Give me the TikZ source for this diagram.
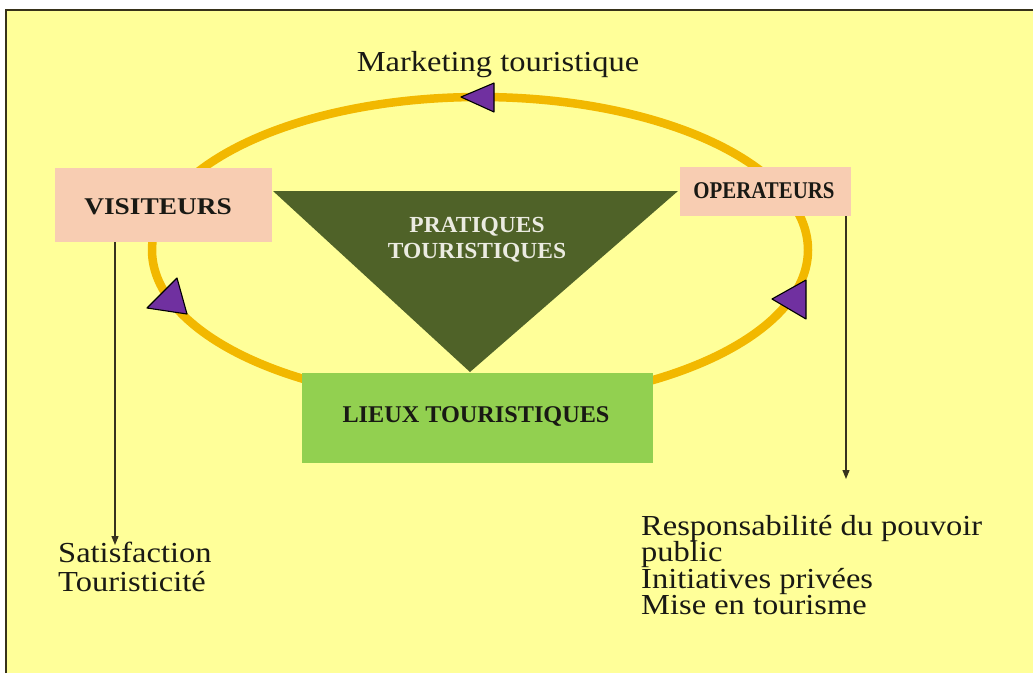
\documentclass[tikz,border=0pt]{standalone}
\usepackage{fontspec}
\setmainfont{Liberation Serif}
\usetikzlibrary{arrows.meta}
\definecolor{bgyellow}{RGB}{255,255,153}
\definecolor{framecol}{RGB}{55,50,25}
\definecolor{ringcol}{RGB}{242,184,0}
\definecolor{pinkbox}{RGB}{248,205,178}
\definecolor{darkgreen}{RGB}{79,98,40}
\definecolor{lightgreen}{RGB}{146,208,80}
\definecolor{purplehead}{RGB}{112,48,160}
\definecolor{textdark}{RGB}{25,25,20}
\definecolor{connline}{RGB}{55,50,30}
\definecolor{paletext}{RGB}{235,235,225}
\tikzset{
  boxpink/.style={fill=pinkbox, draw=none, inner sep=0pt},
  boxgreen/.style={fill=lightgreen, draw=none, inner sep=0pt},
  headtri/.style={fill=purplehead, draw=black, line width=1.1pt, line join=round},
  plain/.style={font=\fontsize{29}{29}\selectfont, text=textdark, inner sep=0pt, xscale=1.12},
  capslabel/.style={font=\bfseries\fontsize{24}{26}\selectfont, text=textdark, inner sep=0pt},
  conn/.style={draw=connline, line width=1.2pt, -{Triangle[length=9pt,width=7pt]}},
}
\begin{document}
\begin{tikzpicture}[x=1pt,y=-1pt]
\useasboundingbox (0,0) rectangle (1033,673);
\fill[white] (0,0) rectangle (1033,673);
\fill[bgyellow] (6,10) rectangle (1033,673);
\draw[framecol, line width=2pt] (6,673) -- (6,10) -- (1033,10);

% ring
\draw[ringcol, line width=8.5pt] (480,250) ellipse [x radius=328, y radius=153];

% arrowheads on the ring
\filldraw[headtri] (461,97) -- (494,83) -- (494,112) -- cycle;
\filldraw[headtri] (147,308) -- (177,278) -- (187,314) -- cycle;
\filldraw[headtri] (772,299) -- (806,280) -- (806,319) -- cycle;

% boxes
\node[boxpink, minimum width=217pt, minimum height=74pt] (vis) at (163,205) {};
\node[capslabel, xscale=1.14] (vislabel) at (158,207) {VISITEURS};
\node[boxpink, minimum width=171pt, minimum height=49pt] (op) at (765.5,191.5) {};
\node[capslabel, xscale=0.87] (oplabel) at (764,191) {OPERATEURS};

% triangle
\coordinate (tl) at (273,191);
\coordinate (tr) at (678,191);
\coordinate (tb) at (470,372);
\fill[darkgreen] (tl) -- (tr) -- (tb) -- cycle;
\node[capslabel, font=\bfseries\fontsize{23}{26}\selectfont, text=paletext, align=center, xscale=1.02] (prat) at (477,240) {PRATIQUES\\TOURISTIQUES};

% green box
\node[boxgreen, minimum width=351pt, minimum height=90pt] (lieux) at (477.5,418) {};
\node[capslabel, xscale=1.01] (lieuxlabel) at (476,416) {LIEUX TOURISTIQUES};

% title
\node[plain] (mkt) at (498,65) {Marketing touristique};

% left outcome
\node[plain, anchor=north west, align=left] (left) at (58,542) {Satisfaction\\Touristicité};
\coordinate (vt) at (115,545);
\draw[conn] (vis.south -| vt) -- (vt);

% right outcome
\node[plain, font=\fontsize{29}{26.5}\selectfont, anchor=north west, align=left] (right) at (641,515) {Responsabilité du pouvoir\\public\\Initiatives privées\\Mise en tourisme};
\coordinate (ot) at (846,479);
\draw[conn] (op.south -| ot) -- (ot);
\end{tikzpicture}
\end{document}
